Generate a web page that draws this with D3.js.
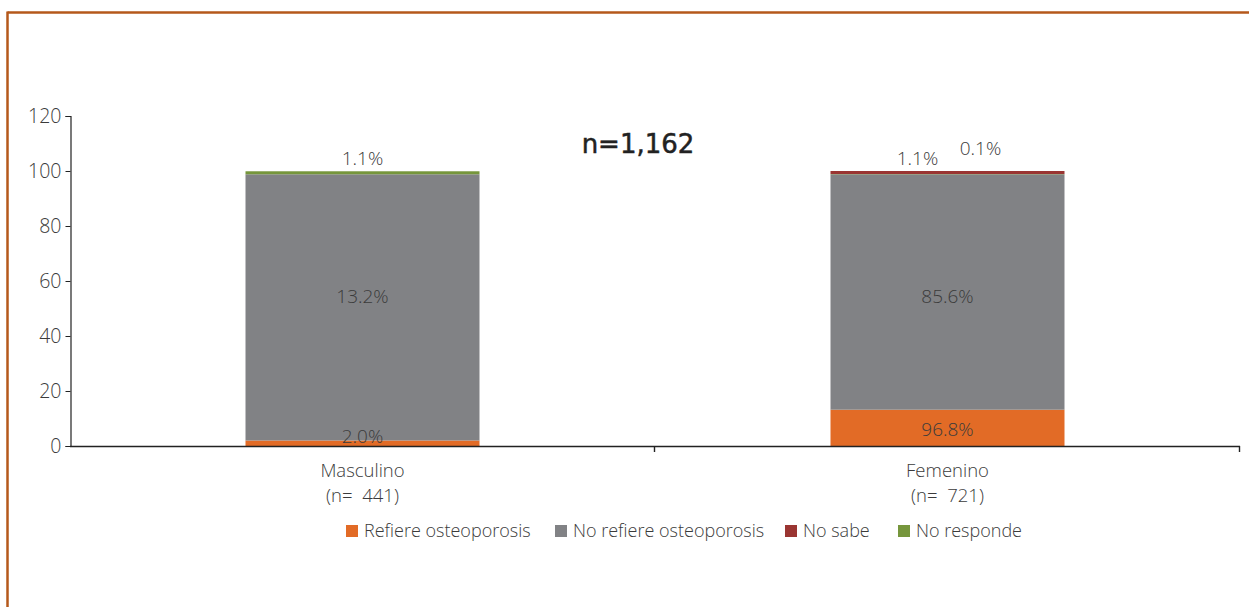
<!DOCTYPE html>
<html><head><meta charset="utf-8">
<script src="https://cdn.jsdelivr.net/npm/d3@7"></script>
<style>
html,body{margin:0;padding:0;background:#fff;}
svg{display:block;}
</style></head>
<body>
<script>
const categories = ["Masculino", "Femenino"];
const categorySub = ["(n=\u00A0\u00A0441)", "(n=\u00A0\u00A0721)"];
const seriesNames = ["Refiere osteoporosis", "No refiere osteoporosis", "No sabe", "No responde"];
const seriesColors = ["#E26B26", "#818285", "#9A3532", "#76963C"];
const refiere = [2.0, 13.2];
const noRefiere = [96.8, 85.6];
const noSabe = [0.0, 1.1];
const noResponde = [1.1, 0.1];
// labels as printed in the figure
const labelRefiere = ["2.0%", "96.8%"];
const labelNoRefiere = ["13.2%", "85.6%"];
const labelNoSabe = ["", "1.1%"];
const labelNoResponde = ["1.1%", "0.1%"];
const yTicks = [0, 20, 40, 60, 80, 100, 120];
const totalLabel = "n=1,162";

const W = 1249, H = 607;
const FONT = "'Open Sans', sans-serif";
const TXT = "#3b3b3b";
const svg = d3.select("body").append("svg").attr("width", W).attr("height", H);

// frame (top and left rule)
svg.append("line").attr("x1", 7.5).attr("x2", W).attr("y1", 12.5).attr("y2", 12.5).attr("stroke", "#B5581B").attr("stroke-width", 2.5);
svg.append("line").attr("x1", 7.5).attr("x2", 7.5).attr("y1", 11.5).attr("y2", H).attr("stroke", "#B5581B").attr("stroke-width", 2.5);

const x0 = 70, x1 = 1240, yTop = 116, yBot = 446;
const x = d3.scaleBand().domain(categories).range([x0, x1]).paddingInner(0.6).paddingOuter(0.3);
const y = d3.scaleLinear().domain([0, 120]).range([yBot, yTop]);

const rows = categories.map((c, i) => ({
  cat: c,
  "Refiere osteoporosis": refiere[i],
  "No refiere osteoporosis": noRefiere[i],
  "No sabe": noSabe[i],
  "No responde": noResponde[i]
}));
// stacking order as drawn in the figure
const stackKeys = ["Refiere osteoporosis", "No refiere osteoporosis", "No responde", "No sabe"];
const stacked = d3.stack().keys(stackKeys)(rows);
const color = d3.scaleOrdinal().domain(seriesNames).range(seriesColors);

const g = svg.append("g");
stacked.forEach(s => {
  g.selectAll(null).data(s).enter().append("rect")
    .attr("x", d => x(d.data.cat))
    .attr("width", x.bandwidth())
    .attr("y", d => y(d[1]))
    .attr("height", d => Math.max(0, y(d[0]) - y(d[1])))
    .attr("fill", color(s.key));
});

function styleText(sel, size, weight) {
  sel.style("font-family", FONT).style("font-size", size + "px").style("font-weight", weight || 300).style("fill", TXT);
  return sel;
}

// axes
const yAxis = d3.axisLeft(y).tickValues(yTicks).tickSize(5).tickPadding(4);
const ya = svg.append("g").attr("transform", `translate(${x0 + 0.5},0)`).call(yAxis);
ya.select(".domain").attr("stroke", "#222").attr("stroke-width", 1.2);
ya.selectAll(".tick line").attr("stroke", "#222");
styleText(ya.selectAll("text"), 19.5, 300);

const xb = d3.scaleBand().domain(categories).range([x0, x1]);
const xAxisLine = svg.append("g");
xAxisLine.append("line").attr("x1", x0).attr("x2", x1).attr("y1", y(0) + 0.5).attr("y2", y(0) + 0.5).attr("stroke", "#222").attr("stroke-width", 1.4);
const bounds = categories.map(c => xb(c) + xb.bandwidth());
xAxisLine.selectAll(null).data(bounds).enter().append("line")
  .attr("x1", d => d - 0.5).attr("x2", d => d - 0.5)
  .attr("y1", y(0)).attr("y2", y(0) + 6).attr("stroke", "#222").attr("stroke-width", 1.4);

// category labels
categories.forEach((c, i) => {
  const cx = x(c) + x.bandwidth() / 2;
  styleText(svg.append("text").attr("x", cx).attr("y", y(0) + 31).attr("text-anchor", "middle").text(c), 18.5);
  styleText(svg.append("text").attr("x", cx).attr("y", y(0) + 56).attr("text-anchor", "middle").text(categorySub[i]), 18.5);
});

// data labels
function addLabel(txt, cx, cy) {
  if (!txt) return;
  styleText(svg.append("text").attr("x", cx).attr("y", cy + 3).attr("text-anchor", "middle")
    .attr("dominant-baseline", "middle").text(txt), 19);
}
categories.forEach((c, i) => {
  const cx = x(c) + x.bandwidth() / 2;
  const rMid = y(refiere[i] / 2);
  addLabel(labelRefiere[i], cx, Math.min(rMid, y(0) - 11));
  // grey-segment labels share one height in the figure
  addLabel(labelNoRefiere[i], cx, y(54) - 3);
  const top = y(refiere[i] + noRefiere[i] + noSabe[i] + noResponde[i]);
  if (i === 0) {
    addLabel(labelNoResponde[i], cx, top - 14);
  } else {
    addLabel(labelNoSabe[i], cx - 30, top - 14);
    addLabel(labelNoResponde[i], cx + 33, top - 24);
  }
});

// total n
svg.append("text").attr("x", (x0 + x1) / 2 - 17).attr("y", 145).attr("text-anchor", "middle").attr("dominant-baseline", "middle")
  .style("font-family", "'DejaVu Sans', sans-serif").style("font-size", "26px").style("font-weight", 400).style("fill", "#222")
  .style("stroke", "#222").style("stroke-width", 0.5).text(totalLabel);

// legend
const legendX = [346, 555, 785, 898];
const lg = svg.append("g");
seriesNames.forEach((n, i) => {
  lg.append("rect").attr("x", legendX[i]).attr("y", 525).attr("width", 12).attr("height", 12).attr("fill", seriesColors[i]);
  styleText(lg.append("text").attr("x", legendX[i] + 18).attr("y", 532).attr("dominant-baseline", "middle").text(n), 18);
});
</script>
</body></html>
